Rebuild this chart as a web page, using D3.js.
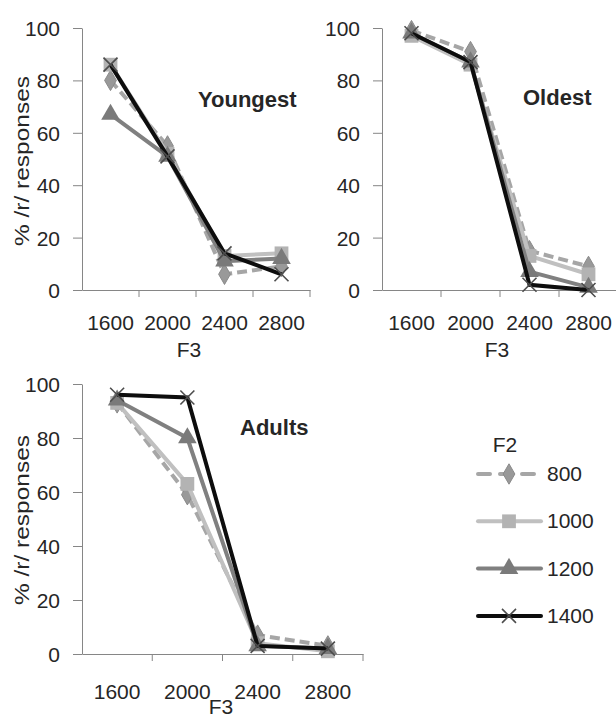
<!DOCTYPE html>
<html lang="en">
<head>
<meta charset="UTF-8">
<title>/r/ responses by F3</title>
<script src="https://d3js.org/d3.v7.min.js"></script>
<style>
  body { margin: 0; background: #fff; }
  text { font-family: "Liberation Sans", Arial, sans-serif; fill: #262626; }
</style>
</head>
<body>
<div id="chart"></div>
<script>
// categories
const f3Labels = ["1600", "2000", "2400", "2800"];
const f2Labels = ["800", "1000", "1200", "1400"];
const yTicks = [0, 20, 40, 60, 80, 100];

// % /r/ responses, one row per F2 series (800, 1000, 1200, 1400)
const youngest = [
  [80, 55, 6, 9],
  [86, 52, 13, 14],
  [67, 51, 11, 12],
  [86, 51, 14, 6]
];
const oldest = [
  [99, 91, 15, 9],
  [97, 86, 13, 6],
  [98, 87, 7, 1],
  [98, 87, 2, 0]
];
const adults = [
  [93, 59, 7, 3],
  [93, 63, 4, 1],
  [94, 80, 3, 2],
  [96, 95, 3, 2]
];

// series styles
const lineColor = ["#a6a6a6", "#c0c0c0", "#808080", "#0d0d0d"];
const markColor = ["#999999", "#b3b3b3", "#7a7a7a", "#4d4d4d"];
const dash = ["10,5", null, null, null];

const svg = d3.select("#chart").append("svg")
  .attr("width", 616)
  .attr("height", 720);

function drawMarker(g, i, cx, cy) {
  if (i === 0) {
    g.append("path")
      .attr("d", d3.symbol().type(d3.symbolDiamond).size(120)())
      .attr("transform", `translate(${cx},${cy})`)
      .attr("fill", markColor[0]).attr("stroke", "#8a8a8a").attr("stroke-width", 1);
  } else if (i === 1) {
    g.append("path")
      .attr("d", d3.symbol().type(d3.symbolSquare).size(190)())
      .attr("transform", `translate(${cx},${cy})`)
      .attr("fill", markColor[1]);
  } else if (i === 2) {
    g.append("path")
      .attr("d", d3.symbol().type(d3.symbolTriangle).size(150)())
      .attr("transform", `translate(${cx},${cy})`)
      .attr("fill", markColor[2]);
  } else {
    const r = 7;
    g.append("path")
      .attr("d", `M${cx - r},${cy - r}L${cx + r},${cy + r}M${cx - r},${cy + r}L${cx + r},${cy - r}`)
      .attr("stroke", markColor[3]).attr("stroke-width", 1.6).attr("fill", "none");
  }
}

function panel(data, cfg) {
  const x = d3.scaleBand().domain(f3Labels).range([cfg.left, cfg.right]);
  const y = d3.scaleLinear().domain([0, 100]).range([cfg.bottom, cfg.top]);
  const g = svg.append("g");

  // y axis
  const ya = g.append("g")
    .attr("transform", `translate(${cfg.left},0)`)
    .call(d3.axisLeft(y).tickValues(yTicks).tickSize(9).tickPadding(13).tickSizeOuter(0));
  ya.selectAll("text").style("font-size", "21px").attr("dy", "0.36em");

  // x axis (labels at centres, tick marks at category boundaries)
  const xa = g.append("g")
    .attr("transform", `translate(0,${cfg.bottom})`)
    .call(d3.axisBottom(x).tickSize(0).tickPadding(cfg.labelPad).tickSizeOuter(0));
  xa.selectAll("text").style("font-size", "21px");
  xa.selectAll(".bound")
    .data(f3Labels.map(c => x(c) + x.bandwidth()))
    .enter().append("line")
    .attr("x1", d => d).attr("x2", d => d)
    .attr("y1", 0).attr("y2", 7);

  g.selectAll(".domain, .tick line, line").attr("stroke", "#868686");
  g.selectAll("text").attr("fill", "#262626");

  // series
  const line = d3.line()
    .x((d, j) => x(f3Labels[j]) + x.bandwidth() / 2)
    .y(d => y(d));

  data.forEach((vals, i) => {
    const s = g.append("g");
    s.append("path")
      .datum(vals)
      .attr("fill", "none")
      .attr("stroke", lineColor[i])
      .attr("stroke-width", 4)
      .attr("stroke-dasharray", dash[i])
      .attr("d", line);
    vals.forEach((v, j) => drawMarker(s, i, x(f3Labels[j]) + x.bandwidth() / 2, y(v)));
  });

  // titles
  g.append("text")
    .attr("x", cfg.titleX).attr("y", cfg.titleY)
    .style("font-size", "22px").style("font-weight", "bold")
    .attr("fill", "#000")
    .text(cfg.title);

  g.append("text")
    .attr("x", cfg.f3X).attr("y", cfg.f3Y)
    .attr("text-anchor", "middle")
    .style("font-size", "21px")
    .attr("fill", "#000")
    .text("F3");

  if (cfg.yLabelY) {
    g.append("text")
      .attr("transform", `translate(29,${cfg.yLabelY}) rotate(-90)`)
      .attr("text-anchor", "middle")
      .attr("textLength", 170)
      .attr("lengthAdjust", "spacingAndGlyphs")
      .style("font-size", "21px")
      .attr("fill", "#000")
      .text("% /r/ responses");
  }
}

panel(youngest, { left: 82, right: 310, top: 28, bottom: 290, labelPad: 25,
  title: "Youngest", titleX: 198, titleY: 107, f3X: 189, f3Y: 357, yLabelY: 161 });
panel(oldest, { left: 382, right: 618, top: 28, bottom: 290, labelPad: 25,
  title: "Oldest", titleX: 523, titleY: 105, f3X: 497, f3Y: 357 });
panel(adults, { left: 82, right: 363, top: 384, bottom: 654, labelPad: 30,
  title: "Adults", titleX: 240, titleY: 435, f3X: 221, f3Y: 714, yLabelY: 520 });

// legend
const legend = svg.append("g");
legend.append("text")
  .attr("x", 505).attr("y", 452)
  .attr("text-anchor", "middle")
  .style("font-size", "21px")
  .attr("fill", "#000")
  .text("F2");

f2Labels.forEach((lab, i) => {
  const cy = 474 + i * 47.3;
  legend.append("line")
    .attr("x1", 478).attr("x2", 541)
    .attr("y1", cy).attr("y2", cy)
    .attr("stroke", lineColor[i])
    .attr("stroke-width", 4)
    .attr("stroke-linecap", "round")
    .attr("stroke-dasharray", i === 0 ? "12,10" : null);
  drawMarker(legend, i, 509, cy);
  legend.append("text")
    .attr("x", 547).attr("y", cy + 7)
    .style("font-size", "21px")
    .attr("fill", "#000")
    .text(lab);
});
</script>
</body>
</html>
